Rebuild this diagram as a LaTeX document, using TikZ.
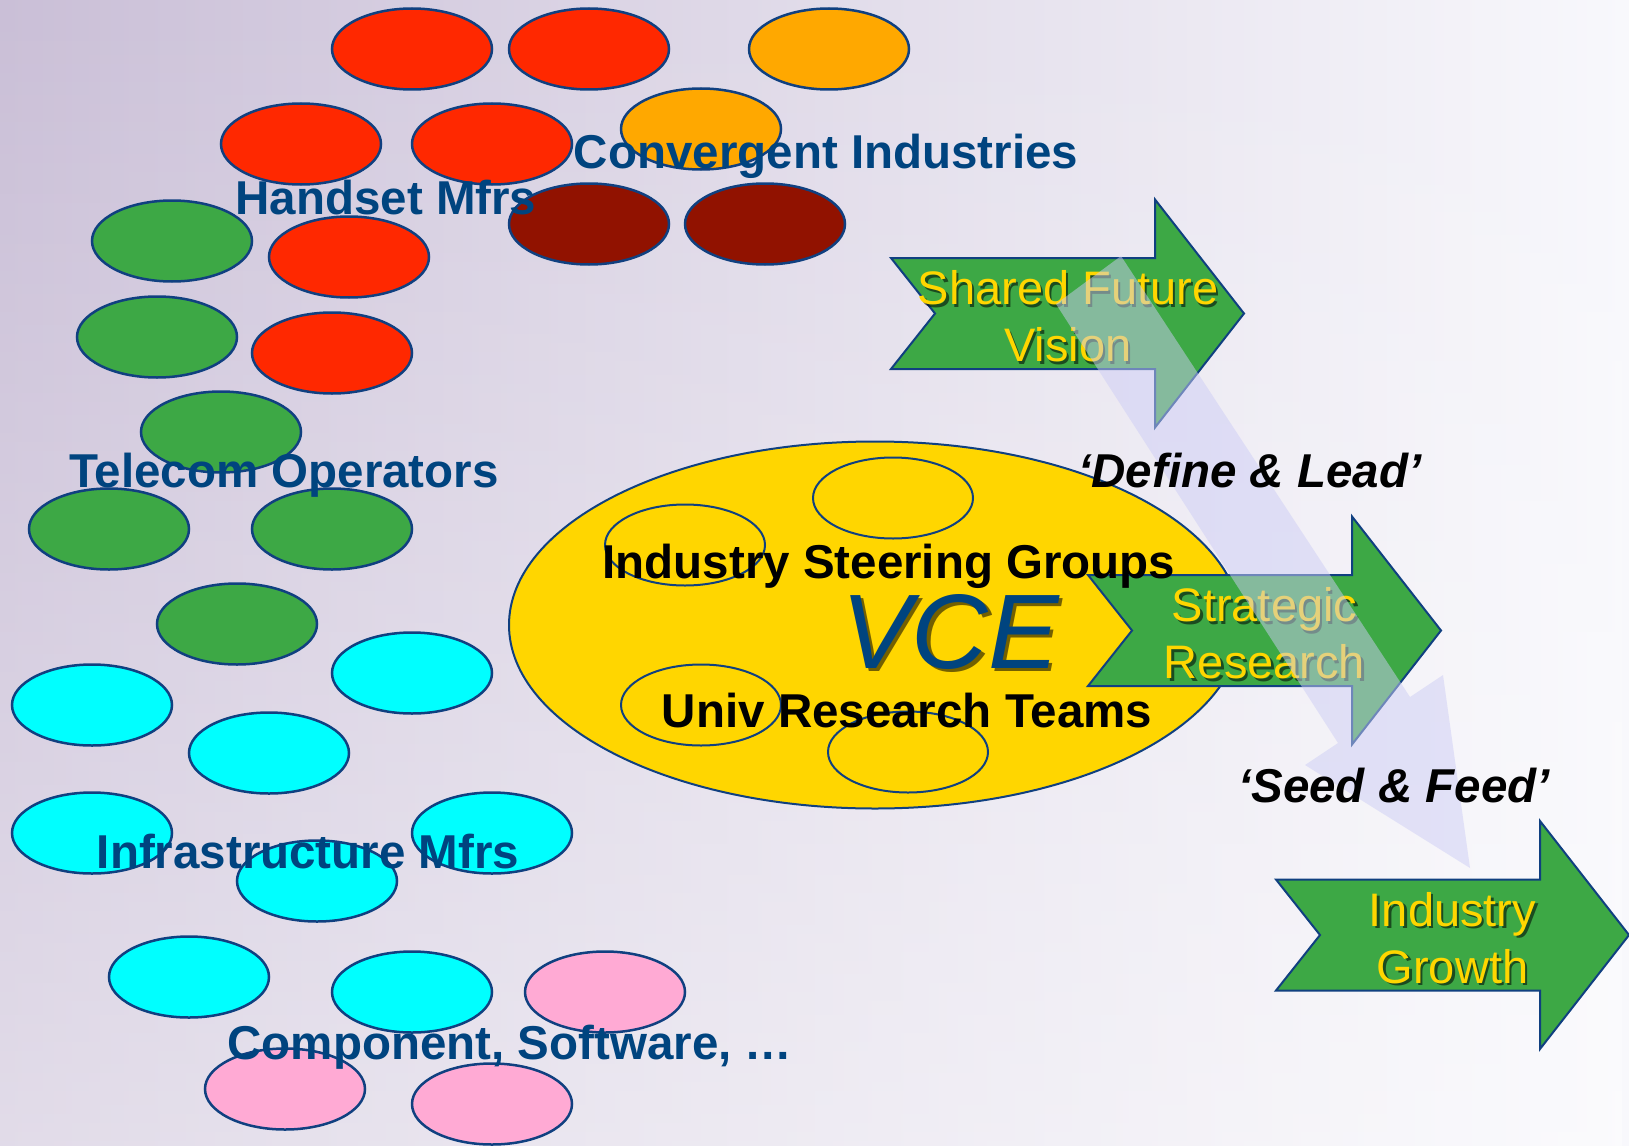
\documentclass[tikz,border=0pt]{standalone}
\usepackage{fontspec}
\setmainfont{Liberation Sans}
\usepackage{xcolor}
\usetikzlibrary{shapes.geometric}
\usetikzlibrary{fadings}

\definecolor{bgpurple}{RGB}{202,191,215}
\definecolor{bgmid}{RGB}{216,207,226}
\definecolor{bgwhite}{RGB}{248,248,252}
\definecolor{edgeblue}{RGB}{16,64,128}
\definecolor{labelblue}{RGB}{0,68,127}
\definecolor{hotred}{RGB}{255,40,0}
\definecolor{amber}{RGB}{255,168,0}
\definecolor{maroon}{RGB}{145,18,0}
\definecolor{leafgreen}{RGB}{61,168,69}
\definecolor{aqua}{RGB}{0,255,255}
\definecolor{rosepink}{RGB}{255,170,212}
\definecolor{gold}{RGB}{255,214,0}
\definecolor{lavband}{RGB}{205,205,245}

\tikzset{
  blob/.style={ellipse,draw=edgeblue,line width=2.5pt,minimum width=160pt,minimum height=81pt,inner sep=0pt},
  grouplabel/.style={anchor=base,text=labelblue,font=\bfseries\fontsize{47.5}{56}\selectfont},
  teamlabel/.style={anchor=base,text=black,font=\bfseries\fontsize{47.5}{56}\selectfont},
  motto/.style={anchor=base,text=black,font=\bfseries\itshape\fontsize{47.5}{56}\selectfont},
  arrowtext/.style={align=center,text=gold,font=\fontsize{47}{57}\selectfont},
  textshadow/.style={text=black,text opacity=0.55},
  bigarrow/.pic={
    \filldraw[fill=leafgreen,draw=edgeblue,line width=2pt]
      (0,-55.5) -- (264,-55.5) -- (264,-114) -- (353,0) -- (264,114)
      -- (264,55.5) -- (0,55.5) -- (44,0) -- cycle;
  }
}

\begin{document}
\begin{tikzpicture}[x=1pt,y=-1pt]
      \useasboundingbox (0,0) rectangle (1629,1145);
      \shade[left color=bgpurple,middle color=bgmid,right color=bgwhite] (0,0) rectangle (1629,1145);
      \fill[white,path fading=north,fill opacity=0.45] (0,0) rectangle (1629,1145);

      % handset and convergent blobs
      \node[blob,fill=hotred] (hs1) at (412,49) {};
      \node[blob,fill=hotred] (hs2) at (589,49) {};
      \node[blob,fill=amber] (cv1) at (829,49) {};
      \node[blob,fill=hotred] (hs3) at (301,144) {};
      \node[blob,fill=hotred] (hs4) at (492,144) {};
      \node[blob,fill=amber] (cv2) at (701,129) {};
      \node[blob,fill=maroon] (cv3) at (589,224) {};
      \node[blob,fill=maroon] (cv4) at (765,224) {};
      \node[blob,fill=hotred] (hs5) at (349,257) {};
      \node[blob,fill=hotred] (hs6) at (332,353) {};

      % telecom blobs
      \node[blob,fill=leafgreen] (tc1) at (172,241) {};
      \node[blob,fill=leafgreen] (tc2) at (157,337) {};
      \node[blob,fill=leafgreen] (tc3) at (221,432) {};
      \node[blob,fill=leafgreen] (tc4) at (109,529) {};
      \node[blob,fill=leafgreen] (tc5) at (332,529) {};
      \node[blob,fill=leafgreen] (tc6) at (237,624) {};

      % infrastructure blobs
      \node[blob,fill=aqua] (in1) at (412,673) {};
      \node[blob,fill=aqua] (in2) at (92,705) {};
      \node[blob,fill=aqua] (in3) at (269,753) {};
      \node[blob,fill=aqua] (in4) at (92,833) {};
      \node[blob,fill=aqua] (in5) at (492,833) {};
      \node[blob,fill=aqua] (in6) at (317,881) {};
      \node[blob,fill=aqua] (in7) at (189,977) {};
      \node[blob,fill=aqua] (in8) at (412,992) {};

      % component blobs
      \node[blob,fill=rosepink] (cp1) at (605,992) {};
      \node[blob,fill=rosepink] (cp2) at (285,1089) {};
      \node[blob,fill=rosepink] (cp3) at (492,1104) {};

      % VCE
      \node[ellipse,fill=gold,draw=edgeblue,line width=2pt,minimum width=732pt,minimum height=367pt,inner sep=0pt] (vceoval) at (875,625) {};
      \node[blob,fill=gold,line width=2pt] (isg1) at (685,545) {};
      \node[blob,fill=gold,line width=2pt] (isg2) at (893,498) {};
      \node[blob,fill=gold,line width=2pt] (urt1) at (701,705) {};
      \node[blob,fill=gold,line width=2pt] (urt2) at (908,752) {};

      \pic (sfvarrow) at (891,313.5) {bigarrow};
      \pic (srarrow) at (1088,630.5) {bigarrow};
      \pic (igarrow) at (1276,935) {bigarrow};

      \node[grouplabel] (convergent) at (826,168) {Convergent Industries};
      \node[grouplabel] (handset) at (386,214) {Handset Mfrs};
      \node[grouplabel] (telecom) at (284,487) {Telecom Operators};
      \node[grouplabel] (infra) at (308,868) {Infrastructure Mfrs};
      \node[grouplabel] (component) at (510,1059) {Component, Software, …};

      \node[teamlabel] (steering) at (889,578) {Industry Steering Groups};
      \node[teamlabel] (univ) at (907,727) {Univ Research Teams};
      \node[anchor=base,textshadow,font=\itshape\fontsize{106}{120}\selectfont] (vceshadow) at (953.5,671.5) {VCE};
      \node[anchor=base,text=labelblue,font=\itshape\fontsize{106}{120}\selectfont] (vce) at (950,668) {VCE};

      \node[arrowtext,textshadow] (sfvshadow) at (1070.5,319) {Shared Future\\Vision};
      \node[arrowtext] (sfv) at (1068,316.5) {Shared Future\\Vision};
      \node[arrowtext,textshadow] (srshadow) at (1267,636) {Strategic\\Research};
      \node[arrowtext] (sr) at (1264.5,633.5) {Strategic\\Research};
      \node[arrowtext,textshadow] (igshadow) at (1455,940.5) {Industry\\Growth};
      \node[arrowtext] (ig) at (1452.5,938) {Industry\\Growth};

      \fill[lavband,fill opacity=0.5] (1056,304) -- (1121,256) -- (1410,697) -- (1443,675)
        -- (1470,868) -- (1305,765) -- (1338,743) -- cycle;

      \node[motto] (define) at (1250,487) {‘Define \& Lead’};
      \node[motto] (seed) at (1394,802) {‘Seed \& Feed’};
\end{tikzpicture}
\end{document}
